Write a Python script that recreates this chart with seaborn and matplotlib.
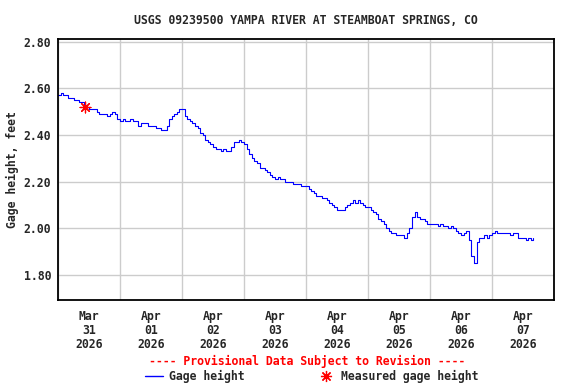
import matplotlib
matplotlib.use('Agg')
import numpy as np
import pandas as pd
import matplotlib.pyplot as plt
import matplotlib.dates as mdates
from matplotlib.lines import Line2D
import seaborn as sns

# Hourly gage height (feet)
mar31 = [2.57, 2.58, 2.57, 2.57, 2.56, 2.56, 2.55, 2.55, 2.54, 2.54, 2.53, 2.52,
         2.51, 2.51, 2.51, 2.50, 2.49, 2.49, 2.49, 2.48, 2.49, 2.50, 2.49, 2.47]
apr01 = [2.46, 2.47, 2.46, 2.46, 2.47, 2.46, 2.46, 2.44, 2.45, 2.45, 2.45, 2.44,
         2.44, 2.44, 2.43, 2.43, 2.42, 2.42, 2.44, 2.47, 2.48, 2.49, 2.50, 2.51]
apr02 = [2.51, 2.48, 2.47, 2.46, 2.45, 2.44, 2.43, 2.41, 2.40, 2.38, 2.37, 2.36,
         2.35, 2.34, 2.34, 2.33, 2.34, 2.33, 2.33, 2.35, 2.37, 2.37, 2.38, 2.37]
apr03 = [2.36, 2.34, 2.32, 2.30, 2.29, 2.28, 2.26, 2.26, 2.25, 2.24, 2.23, 2.22,
         2.21, 2.22, 2.21, 2.21, 2.20, 2.20, 2.20, 2.19, 2.19, 2.19, 2.18, 2.18]
apr04 = [2.18, 2.17, 2.16, 2.15, 2.14, 2.14, 2.13, 2.13, 2.12, 2.11, 2.10, 2.09,
         2.08, 2.08, 2.08, 2.09, 2.10, 2.11, 2.12, 2.11, 2.12, 2.11, 2.10, 2.09]
apr05 = [2.09, 2.08, 2.07, 2.06, 2.04, 2.03, 2.02, 2.00, 1.99, 1.98, 1.98, 1.97,
         1.97, 1.97, 1.96, 1.98, 2.00, 2.05, 2.07, 2.05, 2.04, 2.04, 2.03, 2.02]
apr06 = [2.02, 2.02, 2.02, 2.01, 2.02, 2.01, 2.01, 2.00, 2.01, 2.00, 1.99, 1.98,
         1.97, 1.98, 1.99, 1.95, 1.88, 1.85, 1.94, 1.96, 1.96, 1.97, 1.96, 1.97]
apr07 = [1.98, 1.99, 1.98, 1.98, 1.98, 1.98, 1.98, 1.97, 1.98, 1.98, 1.96, 1.96,
         1.96, 1.95, 1.96, 1.95, 1.96]

gage = mar31 + apr01 + apr02 + apr03 + apr04 + apr05 + apr06 + apr07
start = '2026-03-31 00:00'

# Field measurement
meas_time = ['2026-03-31 10:30']
meas_value = [2.52]

title = 'USGS 09239500 YAMPA RIVER AT STEAMBOAT SPRINGS, CO'
yticks = [1.80, 2.00, 2.20, 2.40, 2.60, 2.80]

df = pd.DataFrame({'time': pd.date_range(start, periods=len(gage), freq='h'),
                   'gage': gage})
dm = pd.DataFrame({'time': pd.to_datetime(meas_time), 'gage': meas_value})

sns.set_style('white')
FONT = 'DejaVu Sans Mono'
plt.rcParams['font.family'] = [FONT]
plt.rcParams['font.weight'] = 'bold'
FS = 8.3

fig = plt.figure(figsize=(5.76, 3.84), dpi=100)
ax = fig.add_axes([58 / 576, 1 - 300 / 384, (554 - 58) / 576, (300 - 39) / 384])

sns.lineplot(data=df, x='time', y='gage', ax=ax, color='#0000ff', lw=0.8,
             drawstyle='steps-post', estimator=None)
sns.scatterplot(data=dm, x='time', y='gage', ax=ax, color='#ff0000',
                marker=(8, 2, 0), s=60, linewidth=0.9, zorder=5)

ax.set_xlim(pd.Timestamp('2026-03-31'), pd.Timestamp('2026-04-08'))
ax.set_ylim(1.693, 2.811)

# gridlines at midnight, labels at noon
ax.xaxis.set_major_locator(mdates.DayLocator())
ax.xaxis.set_major_formatter(plt.NullFormatter())
ax.xaxis.set_minor_locator(mdates.HourLocator(byhour=12))
ax.xaxis.set_minor_formatter(mdates.DateFormatter('%b\n%d\n%Y'))
ax.set_yticks(yticks)
ax.set_yticklabels([f'{v:.2f}' for v in yticks])
ax.grid(True, which='major', color='#cccccc', lw=1.0)
ax.tick_params(axis='both', which='both', length=0, labelsize=FS)
ax.tick_params(axis='x', which='minor', pad=7)
ax.tick_params(axis='y', pad=5)
for lab in ax.xaxis.get_minorticklabels():
    lab.set_linespacing(1.1)
    lab.set_fontweight('bold')
for lab in ax.get_yticklabels():
    lab.set_fontweight('bold')

for sp in ax.spines.values():
    sp.set_color('black')
    sp.set_linewidth(1.3)

ax.set_xlabel('')
ax.set_ylabel('Gage height, feet', fontsize=FS, fontweight='bold', labelpad=3)

fig.text(306 / 576, 1 - 20 / 384, title, ha='center', va='center',
         fontsize=FS, fontweight='bold')
fig.text(307 / 576, 1 - 361 / 384, '---- Provisional Data Subject to Revision ----',
         ha='center', va='center', color='#ff0000', fontsize=FS, fontweight='bold')

handles = [Line2D([], [], color='#0000ff', lw=1.0),
           Line2D([], [], color='#ff0000', lw=0, marker=(8, 2, 0), markersize=8,
                  markeredgewidth=0.9)]
fig.legend(handles, ['Gage height', 'Measured gage height'], ncol=2,
           loc='center', bbox_to_anchor=(0.541, 1 - 376 / 384), frameon=False,
           prop={'family': FONT, 'weight': 'bold', 'size': FS},
           handlelength=1.6, handletextpad=0.5, columnspacing=6.3,
           borderpad=0, borderaxespad=0)

fig.savefig('out.png', dpi=100, facecolor='white')
